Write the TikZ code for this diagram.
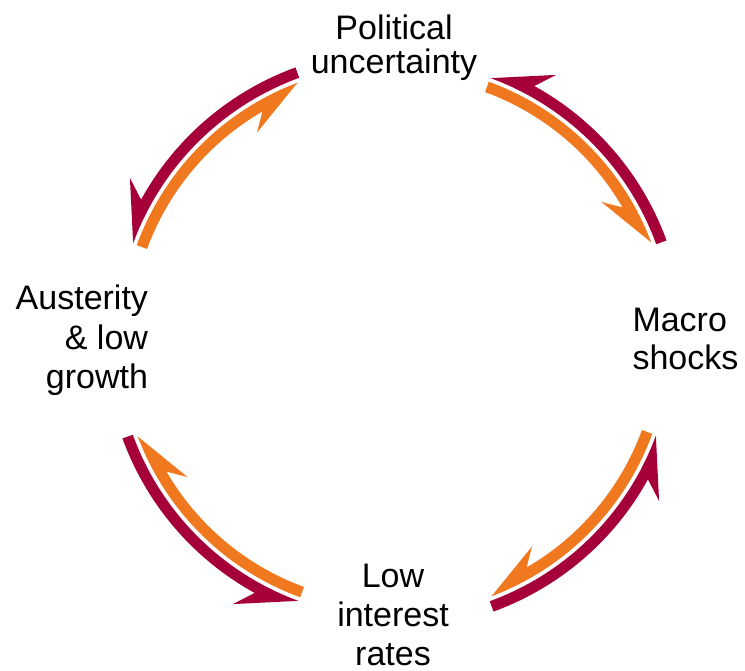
\documentclass[tikz,border=0pt]{standalone}
\usepackage{fontspec}
\setmainfont{Liberation Sans}
\definecolor{maroon}{HTML}{A6003A}
\definecolor{amber}{HTML}{F0781E}
\begin{document}
\begin{tikzpicture}[x=1pt,y=1pt,
  lbl/.style={inner sep=0pt,outer sep=0pt,font=\fontsize{34}{#1}\selectfont},
  outerarrow/.style={fill=maroon},
  innerarrow/.style={fill=amber}]
\useasboundingbox (0,0) rectangle (745,670);
\coordinate (C) at (394.5,330.5);

% labels (anchor base = baseline of last line)
\node[lbl=34,align=center,anchor=base] (pol) at (394,596.7) {Political\\uncertainty};
\node[lbl=38.3,align=left,anchor=base west] (mac) at (632.5,300) {Macro\\shocks};
\node[lbl=39.5,align=right,anchor=base east] (aus) at (148,281) {Austerity\\\& low\\growth};
\node[lbl=39,align=center,anchor=base] (low) at (393,5) {Low\\interest\\rates};

\foreach \k in {0,1,2,3}{
  \begin{scope}[shift={(C)},rotate=90*\k]
    % outer (maroon) arrow, counter-clockwise
    \fill[outerarrow] (20:278.5) arc[start angle=20,end angle=69.8,radius=278.5]
      -- (58.6:310) -- (61.1:289.5)
      arc[start angle=61.1,end angle=20,radius=289.5] -- cycle;
    % inner (orange) arrow, clockwise
    \fill[innerarrow] (69.9:274.5) arc[start angle=69.9,end angle=20.7,radius=274.5]
      -- (33.6:248.5) -- (30.1:263.5)
      arc[start angle=30.1,end angle=69.9,radius=263.5] -- cycle;
  \end{scope}
}
\end{tikzpicture}
\end{document}
